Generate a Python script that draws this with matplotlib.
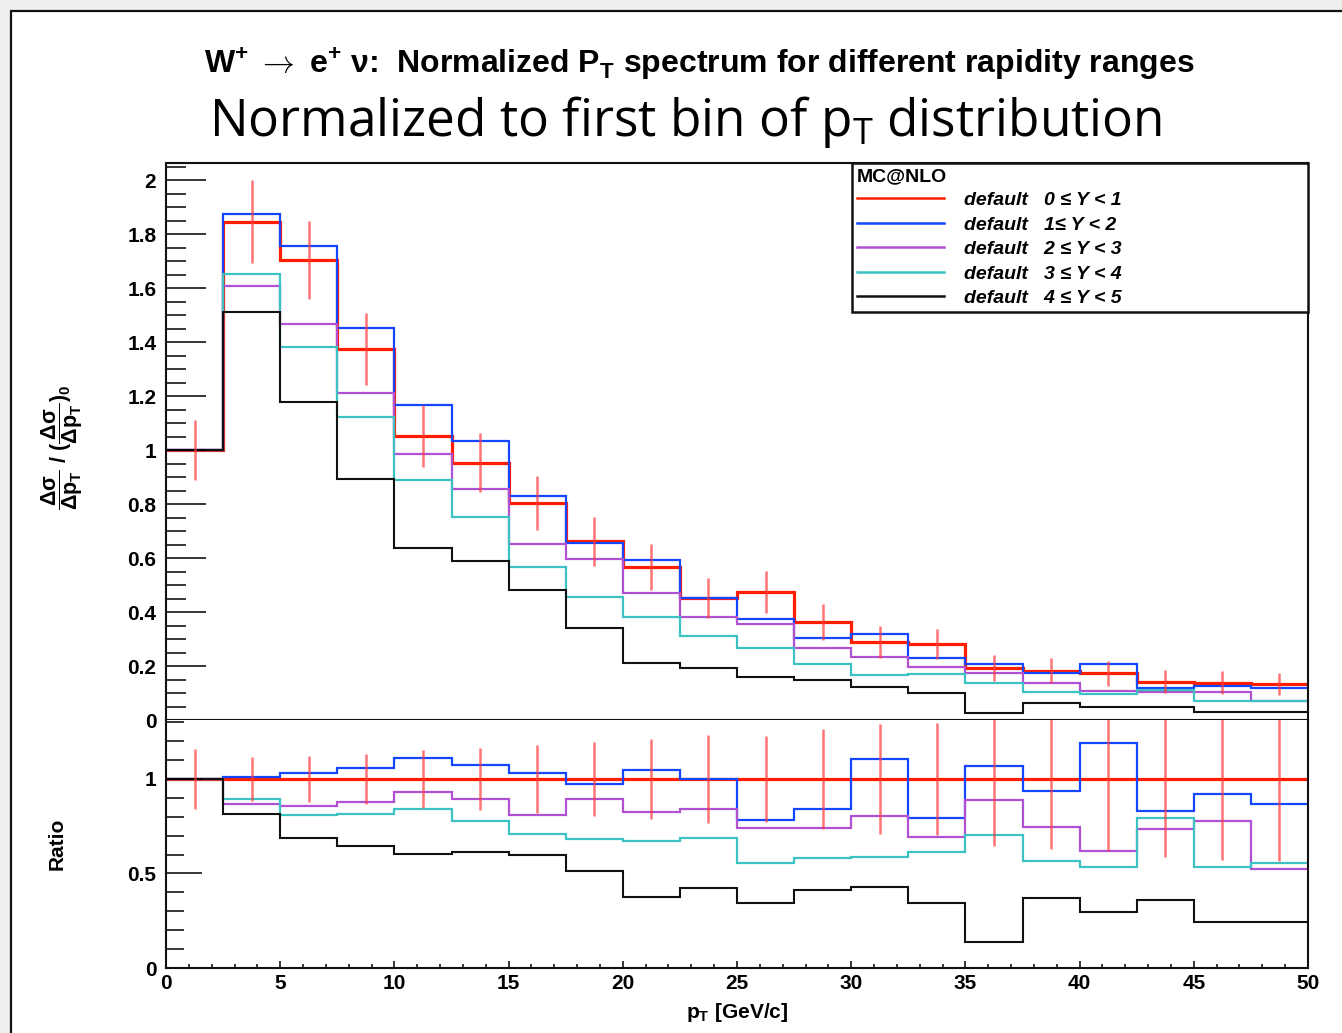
import numpy as np
import matplotlib
matplotlib.use("Agg")
import matplotlib.pyplot as plt
from matplotlib.patches import Rectangle
from matplotlib.lines import Line2D
from matplotlib.ticker import MultipleLocator, FuncFormatter

plt.rcParams['font.family'] = ['Liberation Sans', 'DejaVu Sans']
plt.rcParams['mathtext.fontset'] = 'custom'
plt.rcParams['mathtext.rm'] = 'Open Sans'
plt.rcParams['mathtext.it'] = 'Open Sans:italic'
plt.rcParams['mathtext.bf'] = 'Liberation Sans:bold'

# ---------------- data ----------------
bin_edges = [0, 2.5, 5, 7.5, 10, 12.5, 15, 17.5, 20, 22.5, 25,
             27.5, 30, 32.5, 35, 37.5, 40, 42.5, 45, 47.5, 50]

labels = ["default   0 \u2264 Y < 1", "default   1\u2264 Y < 2", "default   2 \u2264 Y < 3",
          "default   3 \u2264 Y < 4", "default   4 \u2264 Y < 5"]

y01 = [1.0, 1.846, 1.704, 1.373, 1.052, 0.953, 0.803, 0.662, 0.566, 0.452,
       0.475, 0.362, 0.290, 0.281, 0.194, 0.183, 0.173, 0.142, 0.138, 0.133]
y01_err = [0.110, 0.154, 0.146, 0.133, 0.114, 0.110, 0.100, 0.091, 0.086, 0.073,
           0.077, 0.066, 0.060, 0.056, 0.048, 0.047, 0.047, 0.042, 0.043, 0.042]
y12 = [1.0, 1.873, 1.757, 1.453, 1.167, 1.033, 0.831, 0.654, 0.593, 0.452,
       0.375, 0.305, 0.319, 0.228, 0.207, 0.173, 0.207, 0.120, 0.127, 0.117]
y23 = [1.0, 1.607, 1.466, 1.210, 0.984, 0.856, 0.652, 0.596, 0.469, 0.383,
       0.354, 0.268, 0.234, 0.197, 0.173, 0.138, 0.109, 0.105, 0.105, 0.070]
y34 = [1.0, 1.651, 1.383, 1.121, 0.889, 0.751, 0.568, 0.454, 0.380, 0.311,
       0.266, 0.207, 0.167, 0.170, 0.136, 0.105, 0.096, 0.111, 0.070, 0.070]
y45 = [1.0, 1.512, 1.177, 0.891, 0.638, 0.589, 0.481, 0.340, 0.212, 0.191,
       0.160, 0.148, 0.123, 0.099, 0.027, 0.064, 0.049, 0.047, 0.029, 0.029]

r01 = [1.0] * 20
r01_err = [0.160, 0.116, 0.123, 0.134, 0.154, 0.164, 0.179, 0.194, 0.211, 0.234,
           0.229, 0.265, 0.293, 0.295, 0.356, 0.370, 0.380, 0.414, 0.427, 0.432]
r12 = [1.0, 1.012, 1.030, 1.057, 1.110, 1.074, 1.030, 0.974, 1.048, 0.998,
       0.785, 0.841, 1.106, 0.792, 1.069, 0.938, 1.189, 0.831, 0.922, 0.866]
r23 = [1.0, 0.866, 0.857, 0.877, 0.930, 0.894, 0.810, 0.894, 0.824, 0.841,
       0.743, 0.742, 0.806, 0.695, 0.887, 0.748, 0.621, 0.734, 0.779, 0.522]
r34 = [1.0, 0.894, 0.810, 0.813, 0.841, 0.778, 0.707, 0.681, 0.672, 0.686,
       0.558, 0.580, 0.586, 0.612, 0.704, 0.568, 0.533, 0.792, 0.533, 0.557]
r45 = [1.0, 0.815, 0.686, 0.644, 0.602, 0.616, 0.598, 0.513, 0.377, 0.422,
       0.342, 0.413, 0.427, 0.342, 0.139, 0.369, 0.298, 0.360, 0.245, 0.245]

colors = ['#ff1e00', '#1446ff', '#b050d2', '#3cc2c2', '#111111']
lws = [2.3, 1.6, 1.6, 1.6, 1.5]
err_color = '#ff3b3b'

# ---------------- figure ----------------
W, H = 1342, 1033
fig = plt.figure(figsize=(W / 100, H / 100), dpi=100)
fig.patch.set_facecolor('#efefef')
fig.patches.append(Rectangle((11 / W, -0.01), 1.02, 1 - 11 / H + 0.01, transform=fig.transFigure,
                             facecolor='white', edgecolor='#111111', lw=1.6, zorder=-10))

left = 166 / W
width = 1308 / W - left
ax1 = fig.add_axes([left, 1 - 720 / H, width, (720 - 163) / H])
ax2 = fig.add_axes([left, 1 - 968 / H, width, (968 - 720) / H], sharex=ax1)

edges = np.array(bin_edges)
centers = 0.5 * (edges[:-1] + edges[1:])

top_series = [y01, y12, y23, y34, y45]
rat_series = [r01, r12, r23, r34, r45]

for vals, c, lw in zip(top_series, colors, lws):
    ax1.stairs(vals, edges, baseline=None, color=c, lw=lw)
ax1.errorbar(centers, y01, yerr=y01_err, fmt='none', ecolor=err_color, elinewidth=1.8,
             alpha=0.7, capsize=0, zorder=5)

for vals, c, lw in zip(rat_series, colors, lws):
    ax2.stairs(vals, edges, baseline=None, color=c, lw=lw)
ax2.errorbar(centers, r01, yerr=r01_err, fmt='none', ecolor=err_color, elinewidth=1.8,
             alpha=0.7, capsize=0, zorder=5)

ax1.set_xlim(0, 50)
ax1.set_ylim(0, 2.063)
ax2.set_ylim(0, 1.312)

fmt = FuncFormatter(lambda v, p: ('%g' % round(v, 3)))

ax1.yaxis.set_major_locator(MultipleLocator(0.2))
ax1.yaxis.set_minor_locator(MultipleLocator(0.05))
ax1.yaxis.set_major_formatter(fmt)
ax1.tick_params(axis='y', which='major', direction='in', length=29, width=1.1, pad=7,
                labelsize=15, right=False)
ax1.tick_params(axis='y', which='minor', direction='in', length=14.5, width=1.1, right=False)
ax1.tick_params(axis='x', which='both', length=0, labelbottom=False)

ax2.yaxis.set_major_locator(MultipleLocator(0.5))
ax2.yaxis.set_minor_locator(MultipleLocator(0.1))
ax2.yaxis.set_major_formatter(fmt)
ax2.xaxis.set_major_locator(MultipleLocator(5))
ax2.xaxis.set_minor_locator(MultipleLocator(1))
ax2.xaxis.set_major_formatter(fmt)
ax2.tick_params(axis='y', which='major', direction='in', length=26, width=1.1, pad=7,
                labelsize=15, right=False)
ax2.tick_params(axis='y', which='minor', direction='in', length=13, width=1.1, right=False)
ax2.tick_params(axis='x', which='major', direction='in', length=5, width=1.1, pad=4,
                labelsize=15, top=False)
ax2.tick_params(axis='x', which='minor', direction='in', length=2.8, width=1.1, top=False)

for ax in (ax1, ax2):
    for lab in ax.get_xticklabels() + ax.get_yticklabels():
        lab.set_fontweight('bold')
    for s in ax.spines.values():
        s.set_linewidth(1.5)
        s.set_color('#111111')
ax2.spines['top'].set_visible(False)

# axis labels
ax1.set_ylabel(r'$\mathbf{\dfrac{\Delta\sigma}{\Delta p_{T}}\ /\ (\dfrac{\Delta\sigma}{\Delta p_{T}})_{0}}$',
               fontsize=15.5)
ax1.yaxis.set_label_coords(-0.071, 0.49)
ax2.set_ylabel('Ratio', fontsize=15, fontweight='bold')
ax2.yaxis.set_label_coords(-0.087, 0.5)
ax2.set_xlabel(r'p$_{\mathbf{T}}$ [GeV/c]', fontsize=15, fontweight='bold', labelpad=6)

# titles
fig.text(699.5 / W, 1 - 73 / H,
         r'W$^{\mathbf{+}}$ $\rightarrow$ e$^{\mathbf{+}}$ ' + '\u03bd' +
         r':  Normalized P$_{\mathbf{T}}$ spectrum for different rapidity ranges',
         ha='center', va='baseline', fontsize=23, fontweight='bold')
fig.text(685.5 / W, 1 - 136 / H, r'Normalized to first bin of p$_{\mathrm{T}}$ distribution',
         ha='center', va='baseline', fontsize=37, family='Open Sans')

# legend
handles = [Line2D([], [], color=c, lw=1.8) for c in colors]
leg = ax1.legend(handles, labels, loc='upper left',
                 bbox_to_anchor=(0.6007, 0.7307, 0.3993, 0.2693), mode='expand',
                 borderaxespad=0, fancybox=False, framealpha=1, edgecolor='#111111',
                 title='MC@NLO', alignment='left', handlelength=4.5, handletextpad=1.0,
                 labelspacing=0.35, borderpad=0.25,
                 prop=dict(family='Liberation Sans', weight='bold', style='italic', size=14),
                 title_fontproperties=dict(family='Liberation Sans', weight='bold', size=14))
leg.get_frame().set_linewidth(1.8)

fig.savefig('out.png', dpi=100, facecolor=fig.get_facecolor())
